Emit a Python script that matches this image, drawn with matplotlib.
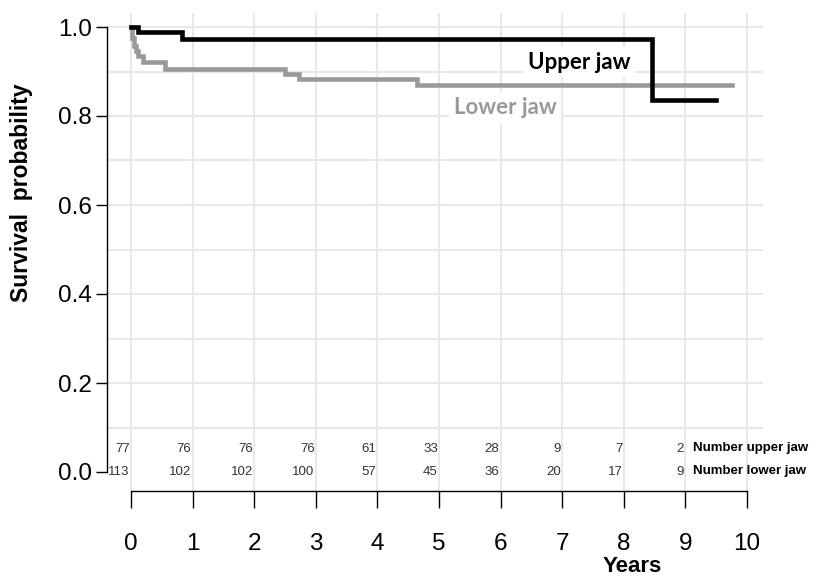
import matplotlib
matplotlib.use("Agg")
import matplotlib.pyplot as plt
import numpy as np

plt.rcParams['font.family'] = ['Liberation Sans', 'DejaVu Sans']

# Kaplan-Meier steps
upper_years = [0, 0.11, 0.83, 8.46, 9.5]
upper_surv = [1.0, 0.988, 0.974, 0.835, 0.835]

lower_years = [0, 0.02, 0.05, 0.08, 0.12, 0.2, 0.55, 2.5, 2.73, 4.64, 9.76]
lower_surv = [1.0, 0.975, 0.958, 0.945, 0.935, 0.921, 0.905, 0.894, 0.883, 0.869, 0.869]

# numbers at risk
risk_years = [0, 1, 2, 3, 4, 5, 6, 7, 8, 9]
risk_upper = [77, 76, 76, 76, 61, 33, 28, 9, 7, 2]
risk_lower = [113, 102, 102, 100, 57, 45, 36, 20, 17, 9]

W, H = 816, 580
fig = plt.figure(figsize=(W / 100, H / 100), dpi=100)
ax = fig.add_axes([107 / W, 1 - 491 / H, (763 - 107) / W, (491 - 13) / H])

px_x = 61.6   # pixels per year
px_y = 445.0  # pixels per unit survival
ax.set_xlim(-(131 - 107) / px_x, (763 - 131) / px_x)
ax.set_ylim(-(491 - 472) / px_y, 1 + (27 - 13) / px_y)

# grid
grid_c = '#e8e8e8'
for yv in np.arange(0.1, 1.01, 0.1):
    ax.axhline(yv, color=grid_c, lw=1.5, zorder=0)
for xv in range(0, 11):
    ax.axvline(xv, color=grid_c, lw=1.5, zorder=0)

ax.step(lower_years, lower_surv, where='post', color='#999999', lw=3.3,
        solid_joinstyle='miter', zorder=3)
ax.step(upper_years, upper_surv, where='post', color='black', lw=3.3,
        solid_joinstyle='miter', zorder=4)

ax.text(7.28, 0.921, 'Upper jaw', fontsize=16, fontweight='bold', family='Lato',
        ha='center', va='center', color='black', zorder=2,
        bbox=dict(facecolor='white', edgecolor='none', pad=3))
ax.text(6.07, 0.818, 'Lower jaw', fontsize=16, fontweight='bold', family='Lato',
        ha='center', va='center', color='#999999', zorder=2,
        bbox=dict(facecolor='white', edgecolor='none', pad=3))

# risk table
for xr, nu, nl in zip(risk_years, risk_upper, risk_lower):
    ax.text(xr - 0.02, 0.052, str(nu), fontsize=9.5, ha='right', va='center', color='#333333')
    ax.text(xr - 0.02, 0.0, str(nl), fontsize=9.5, ha='right', va='center', color='#333333')
ax.text(9.12, 0.054, 'Number upper jaw', fontsize=9.5, fontweight='bold', ha='left', va='center')
ax.text(9.12, 0.002, 'Number lower jaw', fontsize=9.5, fontweight='bold', ha='left', va='center')

# axes
for s in ['top', 'right']:
    ax.spines[s].set_visible(False)
ax.spines['left'].set_bounds(0, 1)
ax.spines['bottom'].set_bounds(0, 10)
ax.spines['left'].set_linewidth(1.0)
ax.spines['bottom'].set_linewidth(1.0)

ax.set_yticks([0, 0.2, 0.4, 0.6, 0.8, 1.0])
ax.set_yticklabels(['0.0', '0.2', '0.4', '0.6', '0.8', '1.0'])
ax.set_xticks(range(0, 11))
ax.tick_params(axis='y', direction='out', length=8, width=1, labelsize=17.5, pad=3)
ax.tick_params(axis='x', direction='out', length=12, width=1, labelsize=17.5, pad=18)

fig.text(22 / W, 1 - 193 / H, 'Survival  probability', rotation=90, fontsize=16.5,
         fontweight='bold', ha='center', va='center')
fig.text(632 / W, 1 - 567 / H, 'Years', fontsize=16, fontweight='bold',
         ha='center', va='center')

fig.savefig('out.png', dpi=100)
